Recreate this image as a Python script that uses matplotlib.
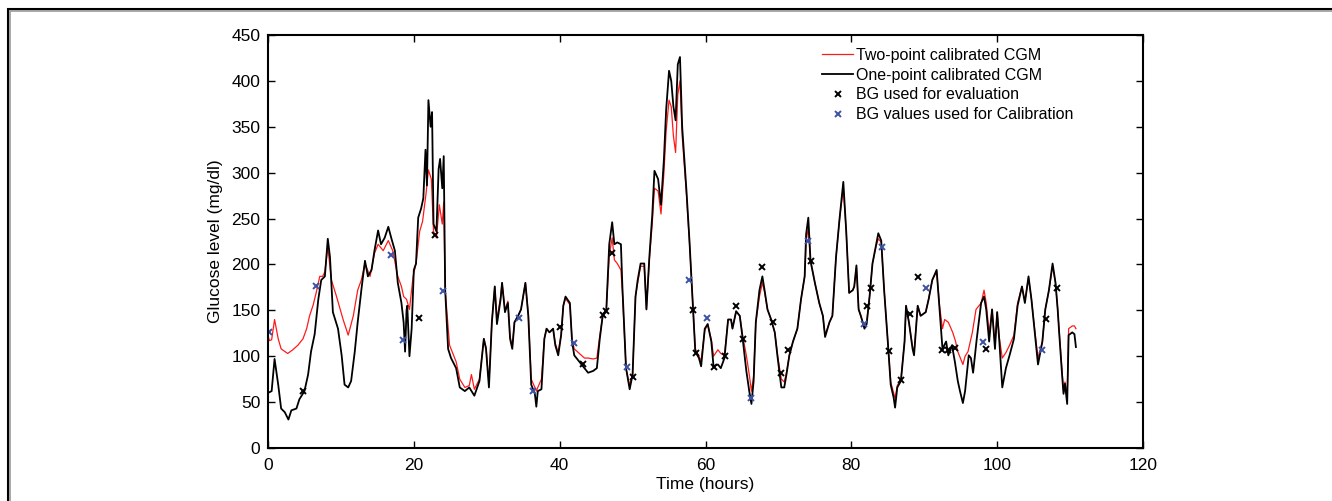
import numpy as np
import matplotlib.pyplot as plt
from matplotlib.patches import Rectangle

plt.rcParams['font.family'] = ['Liberation Sans', 'DejaVu Sans']

# one-point calibrated CGM (black)
t_one = [0.0, 0.5, 0.9, 1.4, 1.8, 2.3, 2.8, 3.2, 3.9, 4.3, 5.0, 5.5, 5.9, 6.4, 6.9, 7.3, 7.8, 8.2, 8.5, 8.9,
         9.6, 10.1, 10.5, 11.0, 11.4, 11.9, 12.3, 12.8, 13.3, 13.7, 14.2, 14.6, 15.1, 15.5, 16.0, 16.5, 16.9,
         17.4, 17.8, 18.3, 18.6, 18.8, 19.0, 19.1, 19.4, 19.7, 20.0, 20.3, 20.6, 21.0, 21.3, 21.6, 21.8, 22.0,
         22.3, 22.5, 22.7, 23.1, 23.4, 23.6, 23.9, 24.1, 24.3, 24.7, 25.1, 25.8, 26.3, 27.0, 27.6, 28.3, 29.0,
         29.6, 29.9, 30.3, 30.7, 31.1, 31.4, 31.9, 32.1, 32.5, 32.9, 33.2, 33.5, 33.8, 34.3, 34.7, 35.3, 35.7,
         36.1, 36.6, 36.8, 37.0, 37.5, 37.9, 38.2, 38.6, 39.1, 39.4, 39.8, 40.2, 40.5, 40.8, 41.4, 41.7, 42.0,
         42.7, 43.4, 43.9, 44.6, 45.1, 45.5, 45.9, 46.4, 46.8, 47.2, 47.5, 47.9, 48.4, 48.6, 49.1, 49.6, 50.0,
         50.4, 50.7, 51.1, 51.6, 51.9, 52.3, 52.7, 53.0, 53.5, 53.9, 54.3, 54.6, 55.0, 55.3, 55.6, 55.9, 56.2,
         56.5, 56.8, 57.4, 57.8, 58.3, 58.6, 59.1, 59.4, 59.9, 60.3, 60.8, 61.1, 61.7, 62.1, 62.6, 63.1, 63.5,
         63.7, 64.2, 64.7, 65.1, 65.6, 66.0, 66.3, 66.6, 66.9, 67.4, 67.8, 68.1, 68.5, 69.0, 69.5, 69.9, 70.4,
         70.8, 71.1, 71.5, 72.0, 72.6, 73.1, 73.6, 73.8, 74.1, 74.4, 75.0, 75.6, 76.1, 76.4, 77.0, 77.4, 77.9,
         78.4, 78.9, 79.3, 79.7, 80.2, 80.4, 80.7, 81.0, 81.3, 81.8, 82.1, 82.5, 82.9, 83.4, 83.7, 84.1, 84.5,
         85.0, 85.4, 85.8, 86.0, 86.3, 86.8, 87.3, 87.5, 87.9, 88.4, 88.6, 89.1, 89.5, 90.2, 90.6, 91.1, 91.7,
         92.1, 92.5, 93.0, 93.3, 93.8, 94.2, 94.6, 94.9, 95.3, 95.6, 96.1, 96.4, 96.7, 97.2, 97.8, 98.2, 98.5,
         98.9, 99.3, 99.7, 100.0, 100.3, 100.7, 101.2, 101.7, 102.3, 102.8, 103.4, 103.8, 104.3, 104.7, 105.2,
         105.6, 106.2, 106.6, 107.1, 107.6, 108.0, 108.3, 108.5, 108.9, 109.1, 109.3, 109.6, 109.8, 110.3,
         110.6, 110.8]
g_one = [60, 62, 97, 69, 43, 39, 31, 41, 43, 53, 62, 80, 105, 124, 162, 183, 187, 228, 208, 148,
         130, 101, 69, 66, 73, 105, 137, 172, 204, 187, 194, 215, 237, 222, 229, 241, 229,
         215, 180, 158, 137, 105, 150, 155, 100, 130, 194, 201, 251, 261, 272, 325, 286, 379,
         350, 366, 244, 236, 304, 315, 283, 318, 172, 108, 98, 87, 66, 62, 66, 57, 73,
         119, 108, 66, 137, 176, 135, 162, 180, 148, 158, 119, 108, 137, 144, 151, 180, 144,
         69, 59, 45, 62, 64, 119, 130, 126, 130, 112, 101, 123, 155, 165, 158, 116, 101,
         94, 87, 82, 84, 87, 119, 144, 151, 222, 246, 222, 224, 222, 176, 87, 64, 80,
         165, 183, 201, 201, 151, 208, 254, 302, 293, 265, 315, 368, 411, 400, 372, 357, 418,
         426, 350, 279, 226, 151, 105, 98, 89, 130, 135, 116, 89, 91, 87, 98, 140, 140,
         130, 149, 144, 119, 84, 62, 48, 73, 137, 172, 187, 172, 151, 140, 126, 98, 66,
         66, 80, 101, 116, 130, 162, 187, 233, 251, 204, 180, 158, 144, 121, 137, 144, 208,
         251, 290, 236, 169, 172, 176, 199, 151, 144, 130, 135, 165, 201, 222, 234, 226, 172,
         116, 69, 55, 44, 66, 73, 116, 155, 137, 108, 101, 155, 144, 148, 162, 183, 194,
         151, 108, 116, 101, 112, 94, 73, 62, 49, 62, 101, 98, 82, 119, 158, 165, 151,
         116, 151, 108, 148, 116, 66, 87, 101, 119, 155, 176, 158, 187, 162, 123,
         91, 116, 151, 172, 201, 180, 151, 126, 80, 59, 70, 48, 123, 126,
         124, 110]

# two-point calibrated CGM (red)
t_two = [0.0, 0.2, 0.5, 0.9, 1.4, 1.8, 2.7, 3.4, 4.1, 4.8, 5.3, 5.7, 6.2, 6.6, 7.1, 7.5, 7.8, 8.2, 8.7, 9.4,
         10.3, 11.0, 11.7, 12.3, 12.8, 13.3, 14.0, 14.6, 15.1, 15.8, 16.5, 17.1, 17.8, 18.3, 18.6, 19.0, 19.4,
         19.9, 20.3, 20.8, 21.2, 21.7, 22.0, 22.4, 22.7, 23.1, 23.5, 23.9, 24.1, 24.3, 24.9, 25.8, 26.3, 27.0,
         27.6, 27.9, 28.3, 29.0, 29.6, 29.9, 30.3, 30.7, 31.1, 31.4, 31.9, 32.1, 32.5, 32.9, 33.2, 33.5, 33.8,
         34.3, 34.7, 35.3, 35.7, 36.1, 36.6, 36.8, 37.0, 37.5, 37.9, 38.2, 38.6, 39.1, 39.4, 39.8, 40.2, 40.5,
         40.8, 41.4, 41.7, 42.0, 42.7, 43.4, 43.9, 44.6, 45.1, 45.5, 45.9, 46.4, 46.8, 47.2, 47.5, 47.9, 48.4,
         48.6, 49.1, 49.6, 50.0, 50.4, 50.7, 51.1, 51.6, 51.9, 52.3, 52.7, 53.0, 53.5, 53.9, 54.3, 54.6, 55.0,
         55.3, 55.6, 55.9, 56.2, 56.5, 56.8, 57.4, 57.8, 58.3, 58.6, 59.1, 59.4, 59.9, 60.3, 60.8, 61.1, 61.7,
         62.1, 62.6, 63.1, 63.5, 63.7, 64.2, 64.7, 65.1, 65.6, 66.0, 66.3, 66.6, 66.9, 67.4, 67.8, 68.1, 68.5,
         69.0, 69.5, 69.9, 70.4, 70.8, 71.1, 71.5, 72.0, 72.6, 73.1, 73.6, 73.8, 74.1, 74.4, 75.0, 75.6, 76.1,
         76.4, 77.0, 77.4, 77.9, 78.4, 78.9, 79.3, 79.7, 80.2, 80.4, 80.7, 81.0, 81.3, 81.8, 82.1, 82.5, 82.9,
         83.4, 83.7, 84.1, 84.5, 85.0, 85.4, 85.8, 86.0, 86.3, 86.8, 87.3, 87.5, 87.9, 88.4, 88.6, 89.1, 89.5,
         90.2, 90.6, 91.1, 91.7, 92.1, 92.5, 92.8, 93.3, 93.9, 94.3, 94.6, 95.3, 95.6, 96.0, 96.6, 97.1, 97.8,
         98.2, 98.5, 98.9, 99.3, 99.7, 100.0, 100.3, 100.7, 101.2, 101.7, 102.3, 102.8, 103.4, 103.8, 104.3,
         104.7, 105.2, 105.6, 106.2, 106.6, 107.1, 107.6, 108.0, 108.3, 108.5, 108.9, 109.1, 109.3, 109.6,
         109.8, 110.3, 110.6, 110.8]
g_two = [122, 117, 118, 140, 119, 108, 103, 107, 112, 119, 130, 144, 156, 169, 187, 187, 192, 219, 183, 165,
         140, 123, 144, 172, 183, 201, 187, 212, 222, 215, 226, 215, 187, 176, 165, 162, 151,
         187, 201, 236, 247, 279, 303, 293, 236, 229, 265, 244, 268, 172, 112, 94, 75, 66,
         68, 80, 64, 75, 119, 110, 70, 137, 176, 140, 165, 180, 150, 160, 122, 110, 137,
         144, 151, 180, 146, 75, 66, 62, 66, 75, 119, 130, 126, 130, 114, 104, 123, 155,
         163, 156, 118, 108, 103, 98, 98, 97, 98, 122, 144, 151, 210, 229, 205, 201, 194,
         170, 87, 68, 80, 165, 180, 198, 198, 151, 205, 245, 283, 280, 255, 300, 345, 379,
         372, 340, 322, 385, 400, 340, 275, 224, 151, 108, 100, 95, 128, 135, 118, 100, 107,
         103, 101, 140, 140, 131, 149, 144, 122, 101, 80, 62, 78, 137, 165, 180, 170, 151,
         140, 126, 100, 75, 72, 82, 101, 116, 130, 162, 187, 225, 240, 204, 180, 158, 144,
         123, 137, 144, 208, 251, 283, 236, 169, 172, 176, 197, 151, 144, 132, 137, 165, 201,
         220, 228, 224, 172, 116, 72, 60, 54, 68, 75, 116, 155, 137, 110, 103, 155, 144,
         148, 162, 183, 192, 155, 130, 140, 137, 126, 116, 105, 91, 100, 105, 126, 151, 158,
         172, 158, 125, 151, 112, 148, 120, 98, 104, 112, 123, 158, 176, 160, 185,
         162, 125, 98, 116, 151, 172, 198, 180, 151, 128, 85, 62, 72, 55,
         130, 133, 133, 130]

# BG reference measurements
t_eval = [4.8, 20.7, 22.9, 40.0, 43.2, 45.9, 46.4, 47.2, 50.1, 58.3, 58.7, 61.2, 62.7, 64.2, 65.2, 67.7,
          69.3, 70.3, 71.3, 74.5, 82.2, 82.7, 85.2, 86.8, 88.1, 89.2, 92.5, 93.2, 94.2, 98.4, 106.7, 108.2]
g_eval = [62, 142, 232, 132, 92, 145, 149, 212, 77, 150, 103, 88, 100, 155, 119, 197,
          137, 82, 107, 204, 155, 174, 106, 74, 146, 186, 107, 107, 109, 108, 141, 174]
t_cal = [0.14, 6.6, 16.9, 18.5, 24.0, 34.4, 36.3, 42.0, 49.3, 57.8, 60.2, 66.2, 74.1, 81.8, 84.2, 90.2,
         98.1, 106.1]
g_cal = [126, 176, 210, 118, 171, 142, 62, 114, 88, 183, 142, 54, 226, 135, 219, 174, 116, 107]

fig = plt.figure(figsize=(13.32, 5.01), dpi=100)
ax = fig.add_axes([268 / 1332, 53 / 501, 875 / 1332, 413 / 501])

ax.plot(t_two, g_two, color='#ff1a1a', lw=0.9, label='Two-point calibrated CGM')
ax.plot(t_one, g_one, color='black', lw=1.3, label='One-point calibrated CGM')
ax.plot(t_eval, g_eval, 'x', color='black', ms=4.5, mew=1.4, label='BG used for evaluation')
ax.plot(t_cal, g_cal, 'x', color='#3b52a5', ms=4.5, mew=1.4, label='BG values used for Calibration')

ax.set_xlim(0, 120)
ax.set_ylim(0, 450)
ax.set_xticks(np.arange(0, 121, 20))
ax.set_yticks(np.arange(0, 451, 50))
ax.tick_params(direction='in', length=5, width=1, top=True, right=True, labelsize=12.5)
ax.tick_params(axis='x', pad=7)
ax.tick_params(axis='y', pad=5.5)
for s in ax.spines.values():
    s.set_linewidth(1.5)
ax.set_xlabel('Time (hours)', fontsize=12.5, labelpad=3)
ax.set_ylabel('Glucose level (mg/dl)', fontsize=12.5, labelpad=6)

leg = ax.legend(loc='upper left', bbox_to_anchor=(0.619, 1.0), frameon=False, fontsize=11.5,
                handlelength=1.9, handletextpad=0.2, labelspacing=0.3, borderpad=0.3)

# figure frame (open on the right and bottom)
fig.patches.append(Rectangle((9.5 / 1332, -0.2), 1.2, (501 - 10.5) / 501 + 0.2, transform=fig.transFigure,
                             fill=False, edgecolor='#9a9a9a', lw=1.2))
fig.patches.append(Rectangle((8 / 1332, -0.2), 1.2, (501 - 9) / 501 + 0.2, transform=fig.transFigure,
                             fill=False, edgecolor='black', lw=1.5))

fig.savefig('out.png', dpi=100)
